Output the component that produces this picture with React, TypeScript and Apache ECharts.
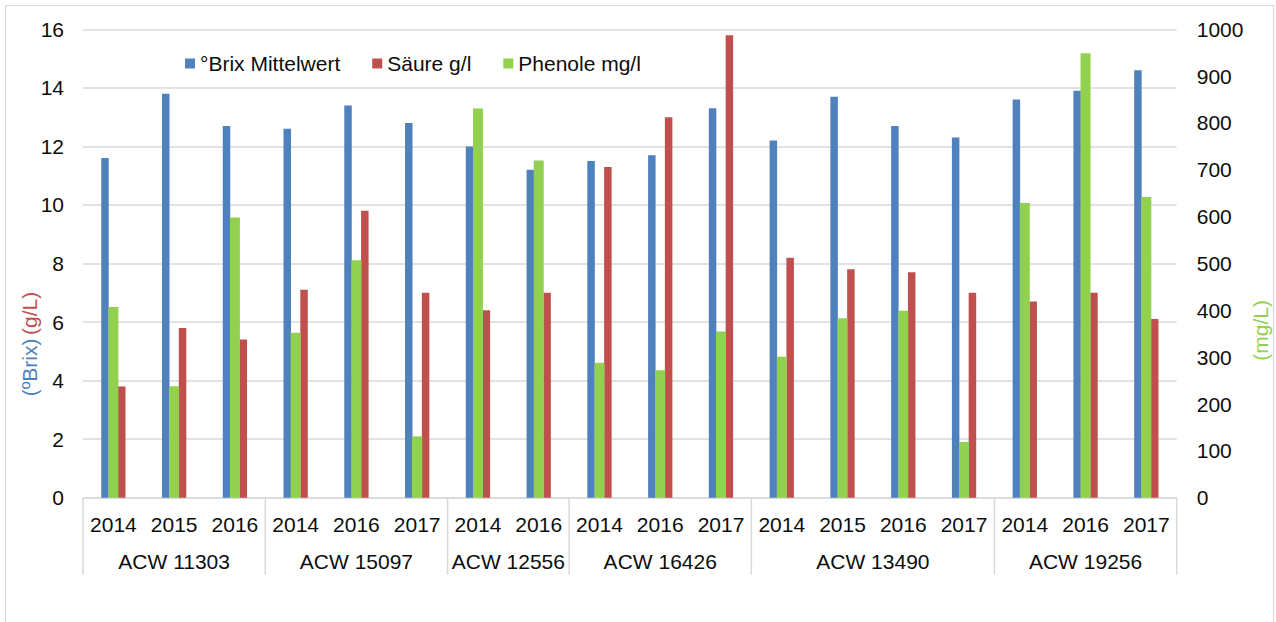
import React, { useEffect, useRef } from "react";
import * as echarts from "echarts";

const groups = ["ACW 11303", "ACW 15097", "ACW 12556", "ACW 16426", "ACW 13490", "ACW 19256"];
const years = [
  ["2014", "2015", "2016"],
  ["2014", "2016", "2017"],
  ["2014", "2016"],
  ["2014", "2016", "2017"],
  ["2014", "2015", "2016", "2017"],
  ["2014", "2016", "2017"],
];
const seriesNames = ["°Brix Mittelwert", "Säure g/l", "Phenole mg/l"];
const brix = [11.6, 13.8, 12.7, 12.6, 13.4, 12.8, 12.0, 11.2, 11.5, 11.7, 13.3, 12.2, 13.7, 12.7, 12.3, 13.6, 13.9, 14.6];
const saeure = [3.8, 5.8, 5.4, 7.1, 9.8, 7.0, 6.4, 7.0, 11.3, 13.0, 15.8, 8.2, 7.8, 7.7, 7.0, 6.7, 7.0, 6.1];
const phenole = [407, 238, 598, 352, 507, 131, 831, 720, 288, 272, 355, 301, 383, 399, 119, 629, 949, 642];
const leftAxis = { min: 0, max: 16, interval: 2 };
const rightAxis = { min: 0, max: 1000, interval: 100 };
const leftTitleParts = ["(ºBrix)", "(g/L)"];
const rightTitle = "(mg/L)";

const BLUE = "#4F81BD";
const RED = "#C0504D";
const GREEN = "#92D050";
const GRID = "#d9d9d9";
const FONT = "'Liberation Sans', Arial, sans-serif";
const TXT = "#0d0d0d";

export default function App() {
  const ref = useRef<HTMLDivElement>(null);
  useEffect(() => {
    const el = ref.current!;
    const chart = echarts.init(el, null, { renderer: "svg" });
    const cats: string[] = [];
    const groupRanges: { name: string; start: number; end: number }[] = [];
    groups.forEach((g, gi) => {
      const start = cats.length;
      years[gi].forEach((y) => cats.push(`${g}|${y}`));
      groupRanges.push({ name: g, start, end: cats.length - 1 });
    });

    chart.setOption({
      animation: false,
      textStyle: { fontFamily: FONT },
      grid: { left: 83, right: 99.3, top: 29.3, bottom: 124.3, outerBoundsMode: "none" },
      legend: {
        data: seriesNames,
        left: 185,
        top: 53,
        padding: 0,
        itemWidth: 10,
        itemHeight: 10,
        itemGap: 32,
        icon: "rect",
        textStyle: { fontSize: 21, color: TXT, fontFamily: FONT },
      },
      xAxis: [
        {
          type: "category",
          data: cats,
          axisLine: { lineStyle: { color: GRID, width: 1.5 } },
          axisTick: { show: false },
          splitLine: { show: false },
          axisLabel: {
            interval: 0,
            formatter: (v: string) => v.split("|")[1],
            fontSize: 21,
            color: TXT,
            margin: 16,
            fontFamily: FONT,
          },
        },
        { type: "category", data: cats, show: false },
      ],
      yAxis: [
        {
          type: "value",
          min: leftAxis.min,
          max: leftAxis.max,
          interval: leftAxis.interval,
          axisLine: { show: false },
          axisTick: { show: false },
          splitLine: { lineStyle: { color: GRID, width: 1.5 } },
          axisLabel: { fontSize: 21, color: TXT, margin: 19, fontFamily: FONT, formatter: (v: number) => String(v) },
        },
        {
          type: "value",
          position: "right",
          min: rightAxis.min,
          max: rightAxis.max,
          interval: rightAxis.interval,
          axisLine: { show: false },
          axisTick: { show: false },
          splitLine: { show: false },
          axisLabel: { fontSize: 21, color: TXT, margin: 20, fontFamily: FONT, formatter: (v: number) => String(v) },
        },
      ],
      series: [
        {
          name: seriesNames[0],
          type: "bar",
          data: brix,
          xAxisIndex: 0,
          yAxisIndex: 0,
          barWidth: 7.5,
          barGap: "124%",
          itemStyle: { color: BLUE },
        },
        {
          name: seriesNames[1],
          type: "bar",
          data: saeure,
          xAxisIndex: 0,
          yAxisIndex: 0,
          barWidth: 7.5,
          barGap: "124%",
          itemStyle: { color: RED },
        },
        {
          name: seriesNames[2],
          type: "bar",
          data: phenole,
          xAxisIndex: 1,
          yAxisIndex: 1,
          barWidth: 10,
          itemStyle: { color: GREEN },
        },
      ],
    });

    const px = (i: number) => chart.convertToPixel({ xAxisIndex: 0 }, cats[i]) as number;
    const y0 = chart.convertToPixel({ yAxisIndex: 0 }, 0) as number;
    const w = px(1) - px(0);
    const elements: any[] = [
      {
        type: "rect",
        shape: { x: 5.5, y: 5.5, width: 1268, height: 700 },
        style: { fill: "none", stroke: GRID, lineWidth: 1.2 },
        silent: true,
      },
      {
        type: "text",
        x: 29.5,
        y: 367.4,
        rotation: Math.PI / 2,
        style: { text: leftTitleParts[0], fill: BLUE, fontSize: 21, fontFamily: FONT, align: "center", verticalAlign: "middle" },
      },
      {
        type: "text",
        x: 29.5,
        y: 313.3,
        rotation: Math.PI / 2,
        style: { text: leftTitleParts[1], fill: RED, fontSize: 21, fontFamily: FONT, align: "center", verticalAlign: "middle" },
      },
      {
        type: "text",
        x: 1260,
        y: 330.4,
        rotation: Math.PI / 2,
        style: { text: rightTitle, fill: GREEN, fontSize: 21, fontFamily: FONT, align: "center", verticalAlign: "middle" },
      },
    ];
    const boundaries: number[] = [px(0) - w / 2];
    groupRanges.forEach((g) => boundaries.push(px(g.end) + w / 2));
    boundaries.forEach((bx) => {
      elements.push({
        type: "line",
        shape: { x1: bx, y1: y0, x2: bx, y2: y0 + 77 },
        style: { stroke: GRID, lineWidth: 1.5 },
        silent: true,
      });
    });
    groupRanges.forEach((g) => {
      const cx = (px(g.start) + px(g.end)) / 2;
      elements.push({
        type: "text",
        x: cx,
        y: y0 + 63.5,
        style: { text: g.name, fill: TXT, fontSize: 21, fontFamily: FONT, align: "center", verticalAlign: "middle" },
      });
    });
    chart.setOption({ graphic: { elements } });

    return () => chart.dispose();
  }, []);
  return <div ref={ref} style={{ position: "absolute", left: 0, top: 0, width: 1276, height: 622 }} />;
}
